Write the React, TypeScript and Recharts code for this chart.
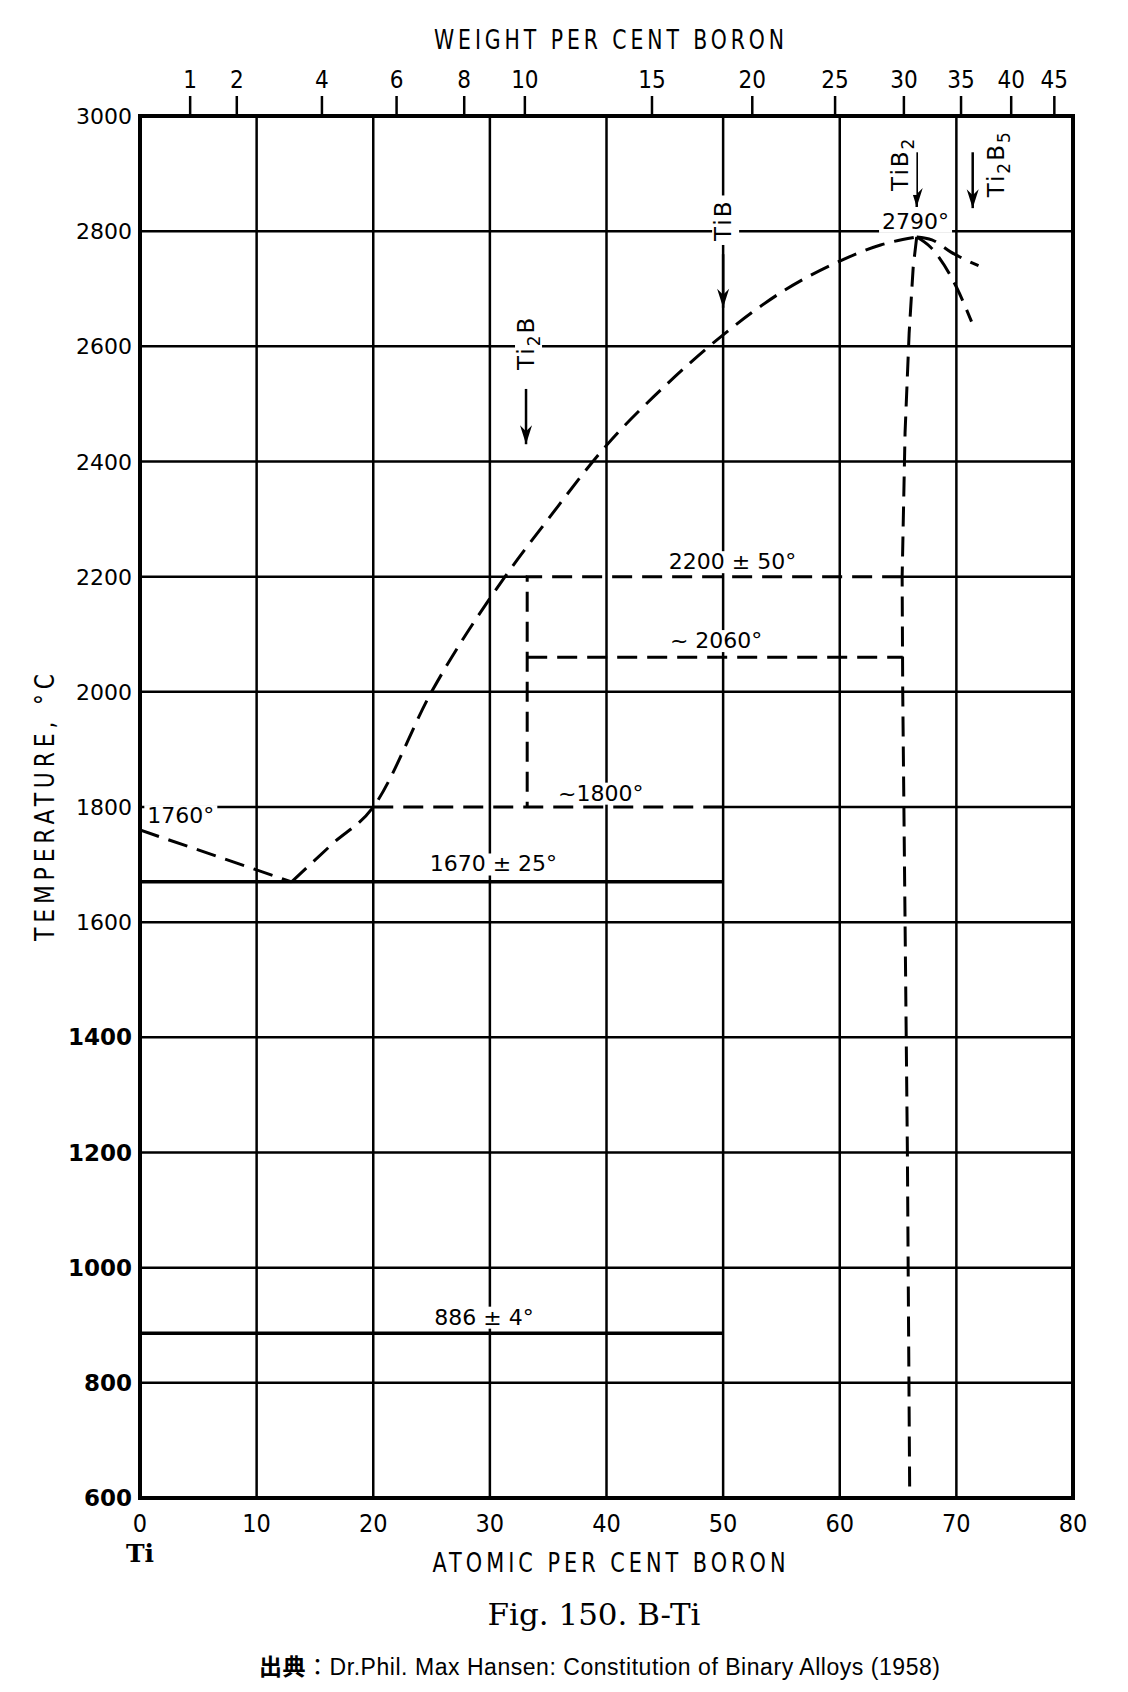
import React from 'react'
import { ComposedChart, Line, XAxis, YAxis, ReferenceArea } from 'recharts'

const W = 1128
const H = 1692
const LEFT = 140
const RIGHT = 1073
const TOP = 116
const BOTTOM = 1498

const SANS = "'DejaVu Sans', 'Liberation Sans', sans-serif"
const NARROW = "'DejaVu Sans Condensed', 'Liberation Sans Narrow', 'DejaVu Sans', sans-serif"

// axes
const atomicTicks = [0, 10, 20, 30, 40, 50, 60, 70, 80]
const tempTicks = [600, 800, 1000, 1200, 1400, 1600, 1800, 2000, 2200, 2400, 2600, 2800, 3000]
const weightLabels = [1, 2, 4, 6, 8, 10, 15, 20, 25, 30, 35, 40, 45]
// atomic % where each weight % tick sits
const weightTickAt = [4.3, 8.3, 15.6, 22.0, 27.8, 33.0, 43.9, 52.5, 59.6, 65.5, 70.4, 74.7, 78.4]

// grid (1800 and 2200 are partly replaced by dashed phase lines)
const gridAt = [10, 20, 30, 40, 50, 60, 70]
const gridTemp = [800, 1000, 1200, 1400, 1600, 2000, 2400, 2600, 2800]
const grid1800Left = [{ x: 0, t: 1800 }, { x: 20, t: 1800 }]
const grid1800Right = [{ x: 50, t: 1800 }, { x: 80, t: 1800 }]
const grid2200Left = [{ x: 0, t: 2200 }, { x: 33.2, t: 2200 }]
const grid2200Right = [{ x: 65.35, t: 2200 }, { x: 80, t: 2200 }]

// phase boundaries
const liquidusLeft = [{ x: 0, t: 1760 }, { x: 13, t: 1670 }]
const liquidusRight = [
  { x: 13, t: 1670 }, { x: 16.5, t: 1736 }, { x: 20, t: 1800 }, { x: 25, t: 2000 },
  { x: 31.3, t: 2200 }, { x: 35, t: 2300 }, { x: 40, t: 2428 }, { x: 45, t: 2531 },
  { x: 50, t: 2620 }, { x: 55, t: 2694 }, { x: 60, t: 2748 }, { x: 63.5, t: 2776 }, { x: 66.6, t: 2790 },
]
const branchUpper = [{ x: 66.6, t: 2790 }, { x: 67.9, t: 2785 }, { x: 69.5, t: 2764 }, { x: 71.9, t: 2740 }]
const branchLower = [{ x: 66.6, t: 2790 }, { x: 67.75, t: 2773 }, { x: 70.0, t: 2703 }, { x: 71.3, t: 2643 }]
const tib2Boundary = [
  { x: 66.6, t: 2790 }, { x: 66.3, t: 2738 }, { x: 65.95, t: 2623 }, { x: 65.6, t: 2450 },
  { x: 65.35, t: 2200 }, { x: 65.4, t: 2000 }, { x: 65.6, t: 1600 }, { x: 65.8, t: 1200 }, { x: 66.0, t: 600 },
]
const line2200 = [{ x: 65.35, t: 2200 }, { x: 33.2, t: 2200 }, { x: 33.2, t: 1800 }]
const line2060 = [{ x: 33.2, t: 2060 }, { x: 65.4, t: 2060 }]
const line1800 = [{ x: 20, t: 1800 }, { x: 50, t: 1800 }]
const line1670 = [{ x: 0, t: 1670 }, { x: 50, t: 1670 }]
const line886 = [{ x: 0, t: 886 }, { x: 50, t: 886 }]

// temperature notes
const noteText = ['1760°', '1670 ± 25°', '~1800°', '~ 2060°', '2200 ± 50°', '2790°', '886 ± 4°']
const noteAt = [3.5, 30.3, 39.5, 49.4, 50.8, 66.5, 29.5]
const noteTemp = [1772, 1688, 1811, 2076, 2213, 2804, 901]
const notes = noteText.map((text, i) => ({ x: noteAt[i], t: noteTemp[i], text }))

// compounds
const compoundName = ['TiB', 'Ti2B', 'TiB2', 'Ti2B5']
const compoundAt = [50, 33.1, 65.2, 73.4]
const compoundTemp = [2819, 2606, 2917, 2917]
const compounds = compoundName.map((name, i) => ({ x: compoundAt[i], t: compoundTemp[i], name }))
const arrows = [
  [{ x: 50, t: 2760 }, { x: 50, t: 2667 }],
  [{ x: 33.1, t: 2526 }, { x: 33.1, t: 2430 }],
  [{ x: 66.6, t: 2937 }, { x: 66.6, t: 2842 }],
  [{ x: 71.4, t: 2937 }, { x: 71.4, t: 2840 }],
]

const gridLines = [
  ...gridAt.map((x) => [{ x, t: 600 }, { x, t: 3000 }]),
  ...gridTemp.map((t) => [{ x: 0, t }, { x: 80, t }]),
  grid1800Left, grid1800Right, grid2200Left, grid2200Right,
]

const base = { xAxisId: 'at', dataKey: 't', dot: false, activeDot: false, isAnimationActive: false, type: 'linear' as const, stroke: '#000' }
const dashed = { ...base, strokeWidth: 3, strokeDasharray: '20 10' }

let ctx: CanvasRenderingContext2D | null = null
function measure(s: string, size: number) {
  if (!ctx) ctx = document.createElement('canvas').getContext('2d')
  if (!ctx) return s.length * size * 0.6
  ctx.font = `${size}px 'DejaVu Sans'`
  return ctx.measureText(s).width
}

function WeightTick(props: any) {
  return (
    <text x={props.x} y={TOP - 28} textAnchor="middle" fontFamily={NARROW} fontSize={24} fill="#000">
      {weightLabels[props.index]}
    </text>
  )
}

function AtomicTick(props: any) {
  const v = props.payload.value
  return (
    <g>
      <text x={props.x} y={BOTTOM + 34} textAnchor="middle" fontFamily={NARROW} fontSize={25} fill="#000">{v}</text>
      {v === 0 && (
        <text x={props.x} y={BOTTOM + 64} textAnchor="middle" fontFamily="'DejaVu Serif', serif" fontWeight="bold" fontSize={25} fill="#000">Ti</text>
      )}
    </g>
  )
}

function TempTick(props: any) {
  const v = props.payload.value
  const bold = v <= 1400
  return (
    <text x={LEFT - 8} y={props.y + 8} textAnchor="end" fontFamily={SANS} fontSize={bold ? 23 : 22} fontWeight={bold ? 'bold' : 'normal'} fill="#000">
      {v}
    </text>
  )
}

// temperature note with a white knock-out box behind it (breaks the grid like the print)
const noteDot = (p: any) => {
  const w = measure(p.payload.text, 22)
  return (
    <g key={`n${p.index}`}>
      <rect x={p.cx - w / 2 - 3} y={p.cy - 18} width={w + 6} height={22} fill="#fff" />
      <text x={p.cx} y={p.cy} textAnchor="middle" fontFamily={SANS} fontSize={22} fill="#000">
        {p.payload.text}
      </text>
    </g>
  )
}

const compoundDot = (p: any) => {
  const parts: { s: string; sub: boolean }[] = []
  for (const ch of p.payload.name as string) {
    const sub = /\d/.test(ch)
    const last = parts[parts.length - 1]
    if (last && last.sub === sub) last.s += ch
    else parts.push({ s: ch, sub })
  }
  const w = parts.reduce((acc, part) => acc + measure(part.s, part.sub ? 17 : 23) + 2 * part.s.length, 0)
  let shift = 0
  return (
    <g key={`c${p.index}`} transform={`translate(${p.cx + 8},${p.cy}) rotate(-90)`}>
      <rect x={-w / 2 - 4} y={-19} width={w + 8} height={27} fill="#fff" />
      <text x={0} y={0} textAnchor="middle" fontFamily={SANS} fontSize={23} letterSpacing={2} fill="#000">
        {parts.map((part, i) => {
          const target = part.sub ? 6 : 0
          const dy = target - shift
          shift = target
          return (
            <tspan key={i} dy={dy} fontSize={part.sub ? 17 : 23}>{part.s}</tspan>
          )
        })}
      </text>
    </g>
  )
}

const arrowDot = (p: any) =>
  p.index === 1 ? (
    <path key={`a${p.index}`} d={`M${p.cx},${p.cy} L${p.cx - 6},${p.cy - 19} L${p.cx},${p.cy - 13} L${p.cx + 6},${p.cy - 19} Z`} fill="#000" />
  ) : (
    <g key={`a${p.index}`} />
  )

export default function App() {
  return (
    <div style={{ position: 'absolute', left: 0, top: 0, width: W, height: H, background: '#fff' }}>
      <ComposedChart width={W} height={H} margin={{ top: TOP - 40, right: W - RIGHT, bottom: H - BOTTOM - 30, left: LEFT - 80 }}>
        <XAxis xAxisId="at" dataKey="x" type="number" domain={[0, 80]} ticks={atomicTicks} interval={0}
          allowDataOverflow height={30} axisLine={false} tickLine={false} tick={<AtomicTick />} />
        <XAxis xAxisId="wt" orientation="top" dataKey="x" type="number" domain={[0, 80]} ticks={weightTickAt} interval={0}
          allowDataOverflow height={40} axisLine={false} tickSize={20} tickLine={{ stroke: '#000', strokeWidth: 2.5 }} tick={<WeightTick />} />
        <YAxis dataKey="t" type="number" domain={[600, 3000]} ticks={tempTicks} interval={0}
          allowDataOverflow width={80} axisLine={false} tickLine={false} tick={<TempTick />} />

        <ReferenceArea xAxisId="at" x1={0} x2={80} y1={600} y2={3000} fill="none" stroke="#000" strokeWidth={4} ifOverflow="visible" />

        {gridLines.map((d, i) => (
          <Line key={`g${i}`} {...base} data={d} strokeWidth={2.5} />
        ))}

        <Line {...base} data={line1670} strokeWidth={3.5} />
        <Line {...base} data={line886} strokeWidth={3.5} />

        <Line {...dashed} data={liquidusLeft} />
        <Line {...dashed} data={liquidusRight} type="monotone" />
        <Line {...dashed} data={branchUpper} type="monotone" />
        <Line {...dashed} data={branchLower} type="monotone" />
        <Line {...dashed} data={tib2Boundary} />
        <Line {...dashed} data={line2200} />
        <Line {...dashed} data={line2060} />
        <Line {...dashed} data={line1800} />

        {arrows.map((d, i) => (
          <Line key={`ar${i}`} {...base} data={d} strokeWidth={2.5} dot={arrowDot} />
        ))}

        <Line {...base} data={notes} stroke="none" dot={noteDot} />
        <Line {...base} data={compounds} stroke="none" dot={compoundDot} />
      </ComposedChart>

      <svg width={W} height={H} style={{ position: 'absolute', left: 0, top: 0, pointerEvents: 'none' }}>
        <text x={611} y={49} textAnchor="middle" fontFamily={SANS} fontSize={26} letterSpacing={5}
          textLength={354} lengthAdjust="spacingAndGlyphs" fill="#000">WEIGHT PER CENT BORON</text>
        <text x={611} y={1572} textAnchor="middle" fontFamily={SANS} fontSize={26} letterSpacing={5}
          textLength={357} lengthAdjust="spacingAndGlyphs" fill="#000">ATOMIC PER CENT BORON</text>
        <g transform="translate(54,805) rotate(-90)">
          <text x={0} y={0} textAnchor="middle" fontFamily={SANS} fontSize={27} letterSpacing={6}
            textLength={272} lengthAdjust="spacingAndGlyphs" fill="#000">TEMPERATURE, °C</text>
        </g>
        <text x={594} y={1625} textAnchor="middle" fontFamily="'DejaVu Serif', serif" fontSize={30}
          textLength={213} lengthAdjust="spacingAndGlyphs" fill="#000">Fig. 150. B-Ti</text>
        <text x={259} y={1675} fontFamily="'Liberation Sans', Arial, 'Noto Sans CJK JP', sans-serif" fontSize={23}
          textLength={681} lengthAdjust="spacing" fill="#000">
          <tspan fontFamily="'Noto Sans CJK JP', sans-serif" fontWeight="bold">出典</tspan>：Dr.Phil. Max Hansen: Constitution of Binary Alloys (1958)
        </text>
      </svg>
    </div>
  )
}
